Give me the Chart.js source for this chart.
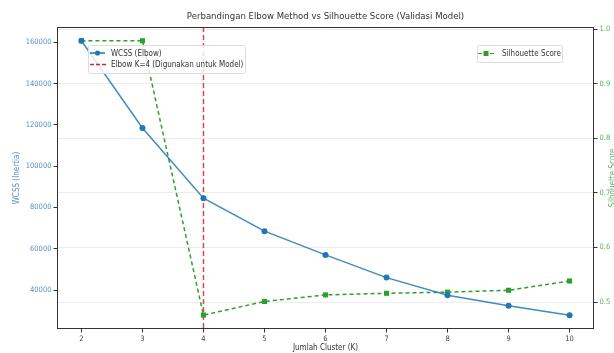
<!DOCTYPE html>
<html>
<head>
<meta charset="utf-8">
<script src="https://cdn.jsdelivr.net/npm/chart.js@4.4.1/dist/chart.umd.min.js"></script>
<style>
  html, body { margin: 0; padding: 0; background: #ffffff; }
  #wrap { width: 614px; height: 353px; position: relative; }
</style>
</head>
<body>
<div id="wrap"><canvas id="c" width="614" height="353"></canvas></div>
<script>
// ---- data ----
const kValues = [2, 3, 4, 5, 6, 7, 8, 9, 10];
const wcss = [160750, 118500, 84500, 68500, 57000, 46000, 37500, 32400, 27750];
const silhouette = [0.979, 0.979, 0.476, 0.501, 0.513, 0.516, 0.518, 0.5215, 0.5385];
const wcssTicks = [40000, 60000, 80000, 100000, 120000, 140000, 160000];
const silTicks = [0.5, 0.6, 0.7, 0.8, 0.9, 1.0];
const chosenK = 4;
const titleText = 'Perbandingan Elbow Method vs Silhouette Score (Validasi Model)';
const xTitle = 'Jumlah Cluster (K)';
const yTitle = 'WCSS (Inertia)';
const y1Title = 'Silhouette Score';
const labelWcss = 'WCSS (Elbow)';
const labelElbow = 'Elbow K=4 (Digunakan untuk Model)';
const labelSil = 'Silhouette Score';

const FONT = "'DejaVu Sans Condensed', 'DejaVu Sans', sans-serif";
const BLUE = '#1f77b4';
const GREEN = '#2ca02c';
const RED = '#d62728';
Chart.defaults.font.family = FONT;

const pts = (ys) => kValues.map((k, i) => ({ x: k, y: ys[i] }));

const decor = {
  id: 'decor',
  beforeDatasetsDraw(chart) {
    const { ctx, chartArea: a, scales } = chart;
    const x = scales.x.getPixelForValue(chosenK);
    ctx.save();
    ctx.strokeStyle = 'rgba(214,39,40,0.85)';
    ctx.lineWidth = 1.5;
    ctx.setLineDash([5, 3]);
    ctx.beginPath();
    ctx.moveTo(x, a.top);
    ctx.lineTo(x, a.bottom);
    ctx.stroke();
    ctx.restore();
  },
  afterDraw(chart) {
    const { ctx, chartArea: a } = chart;
    ctx.save();
    // frame
    ctx.strokeStyle = '#333';
    ctx.lineWidth = 1;
    ctx.strokeRect(Math.round(a.left) + 0.5, Math.round(a.top) + 0.5,
      Math.round(a.right - a.left) - 1, Math.round(a.bottom - a.top) - 1);

    // title
    ctx.fillStyle = '#333';
    ctx.font = '9.5px ' + FONT;
    ctx.textAlign = 'center';
    ctx.textBaseline = 'middle';
    ctx.fillText(titleText, (a.left + a.right) / 2, 17);

    // x title
    ctx.fillStyle = '#333';
    ctx.font = '8px ' + FONT;
    ctx.fillText(xTitle, (a.left + a.right) / 2, 348);

    // left y title
    ctx.save();
    ctx.translate(17, (a.top + a.bottom) / 2);
    ctx.rotate(-Math.PI / 2);
    ctx.fillStyle = '#5b8fc0';
    ctx.font = '8px ' + FONT;
    ctx.fillText(yTitle, 0, 0);
    ctx.restore();

    // right y title
    ctx.save();
    ctx.translate(613, (a.top + a.bottom) / 2);
    ctx.rotate(-Math.PI / 2);
    ctx.fillStyle = '#5fae5f';
    ctx.font = '8px ' + FONT;
    ctx.fillText(y1Title, 0, 0);
    ctx.restore();

    // legend boxes
    const box = (x0, y0, w, h) => {
      ctx.fillStyle = 'rgba(255,255,255,0.8)';
      ctx.strokeStyle = '#dcdcdc';
      ctx.lineWidth = 1;
      ctx.beginPath();
      ctx.roundRect(x0 + 0.5, y0 + 0.5, w, h, 2);
      ctx.fill();
      ctx.stroke();
    };
    ctx.textAlign = 'left';
    ctx.textBaseline = 'middle';
    ctx.font = '8px ' + FONT;

    box(88, 45, 157, 28);
    // WCSS entry
    ctx.strokeStyle = BLUE; ctx.lineWidth = 1.5; ctx.setLineDash([]);
    ctx.beginPath(); ctx.moveTo(90, 53); ctx.lineTo(105, 53); ctx.stroke();
    ctx.fillStyle = BLUE;
    ctx.beginPath(); ctx.arc(97.5, 53, 2.6, 0, Math.PI * 2); ctx.fill();
    ctx.fillStyle = '#333';
    ctx.fillText(labelWcss, 111, 53.5);
    // Elbow entry
    ctx.strokeStyle = RED; ctx.setLineDash([4, 2]);
    ctx.beginPath(); ctx.moveTo(90, 64.5); ctx.lineTo(106, 64.5); ctx.stroke();
    ctx.setLineDash([]);
    ctx.fillStyle = '#333';
    ctx.fillText(labelElbow, 111, 65);

    box(477, 45, 85, 17);
    ctx.strokeStyle = GREEN; ctx.setLineDash([4, 2]);
    ctx.beginPath(); ctx.moveTo(478, 53.5); ctx.lineTo(494, 53.5); ctx.stroke();
    ctx.setLineDash([]);
    ctx.fillStyle = GREEN;
    ctx.fillRect(483.5, 51, 5, 5);
    ctx.fillStyle = '#333';
    ctx.fillText(labelSil, 502, 54);
    ctx.restore();
  }
};

new Chart(document.getElementById('c'), {
  type: 'line',
  data: {
    datasets: [
      {
        label: labelWcss,
        data: pts(wcss),
        yAxisID: 'y',
        borderColor: 'rgba(31,119,180,0.85)',
        backgroundColor: BLUE,
        pointBackgroundColor: BLUE,
        pointBorderColor: BLUE,
        borderWidth: 1.5,
        pointRadius: 3,
        pointBorderWidth: 0,
        pointStyle: 'circle',
        tension: 0
      },
      {
        label: labelSil,
        data: pts(silhouette),
        yAxisID: 'y1',
        borderColor: GREEN,
        backgroundColor: GREEN,
        pointBackgroundColor: GREEN,
        pointBorderColor: GREEN,
        borderWidth: 1.5,
        borderDash: [4, 3],
        pointRadius: 3.6,
        pointBorderWidth: 0,
        pointStyle: 'rect',
        tension: 0
      }
    ]
  },
  options: {
    responsive: false,
    animation: false,
    devicePixelRatio: 1,
    layout: { padding: { top: 27, left: 0, right: 0, bottom: 0 } },
    plugins: {
      legend: { display: false },
      title: { display: false },
      tooltip: { enabled: false }
    },
    scales: {
      x: {
        type: 'linear',
        min: 1.6,
        max: 10.4,
        afterBuildTicks: (s) => { s.ticks = kValues.map(v => ({ value: v })); },
        afterFit: (s) => { s.height = 24; },
        border: { display: false },
        grid: { drawOnChartArea: false, tickLength: 3.5, tickColor: '#333' },
        ticks: { color: '#444', font: { size: 7.5 }, padding: 2, callback: (v) => String(v) }
      },
      y: {
        position: 'left',
        min: 21110,
        max: 167400,
        afterBuildTicks: (s) => { s.ticks = wcssTicks.map(v => ({ value: v })); },
        afterFit: (s) => { s.width = 57; },
        border: { display: false },
        grid: { drawOnChartArea: false, tickLength: 3.5, tickColor: '#333' },
        ticks: { color: '#5b8fc0', font: { size: 7.5 }, padding: 2, callback: (v) => String(v) }
      },
      y1: {
        position: 'right',
        min: 0.4505,
        max: 1.0042,
        afterBuildTicks: (s) => { s.ticks = silTicks.map(v => ({ value: v })); },
        afterFit: (s) => { s.width = 20; },
        border: { display: false },
        grid: { drawOnChartArea: true, color: '#ececec', lineWidth: 1, tickLength: 3.5, tickColor: '#333' },
        ticks: { color: '#5fae5f', font: { size: 7.5 }, padding: 2, callback: (v) => v.toFixed(1) }
      }
    }
  },
  plugins: [decor]
});
</script>
</body>
</html>
